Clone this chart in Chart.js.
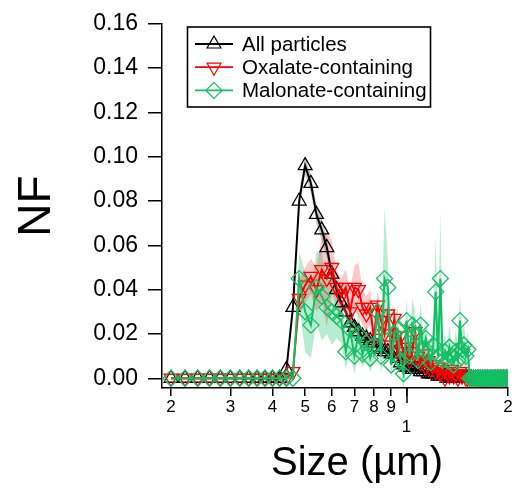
<!DOCTYPE html>
<html>
<head>
<meta charset="utf-8">
<script src="https://cdn.jsdelivr.net/npm/chart.js@4.4.1/dist/chart.umd.min.js"></script>
<style>
  html, body { margin: 0; padding: 0; background: #fff; }
  #wrap { width: 512px; height: 491px; }
</style>
</head>
<body>
<div id="wrap"><canvas id="chart" width="512" height="491"></canvas></div>
<script>
// Size bins (µm)
const sizes = [
  0.20, 0.22, 0.24, 0.26, 0.28, 0.30, 0.32, 0.34, 0.36, 0.38,
  0.40, 0.42, 0.44, 0.46, 0.48, 0.50, 0.52, 0.54, 0.56, 0.58,
  0.60, 0.62, 0.64, 0.66, 0.68, 0.70, 0.72, 0.74, 0.76, 0.78,
  0.80, 0.82, 0.84, 0.86, 0.88, 0.90, 0.92, 0.94, 0.96, 0.98,
  1.00, 1.02, 1.04, 1.06, 1.08, 1.10, 1.12, 1.14, 1.16, 1.18,
  1.20, 1.22, 1.24, 1.26, 1.28, 1.30, 1.32, 1.34, 1.36, 1.38,
  1.40, 1.42, 1.44, 1.46, 1.48, 1.50, 1.52, 1.54, 1.56, 1.58,
  1.60, 1.62, 1.64, 1.66, 1.68, 1.70, 1.72, 1.74, 1.76, 1.78,
  1.80, 1.82, 1.84, 1.86, 1.88, 1.90, 1.92, 1.94, 1.96, 1.98,
  2.00
]

// Number fraction, all particles
const allParticles = [
  0, 0, 0, 0, 0, 0, 0, 0, 0, 0,
  0, 0, 0.004, 0.032, 0.080, 0.096, 0.088, 0.074, 0.067, 0.059,
  0.047, 0.040, 0.034, 0.030, 0.025, 0.023, 0.021, 0.019, 0.018, 0.017,
  0.016, 0.014, 0.013, 0.012, 0.012, 0.011, 0.011, 0.009, 0.007, 0.006,
  0.005, 0.005, 0.004, 0.004, 0.004, 0.003, 0.003, 0.003, 0.002, 0.002,
  0.002, 0.002, 0.001, 0.001, 0.001, 0.001, 0, 0, 0, 0,
  0, 0, 0, 0, 0, 0, 0, 0, 0, 0,
  0, 0, 0, 0, 0, 0, 0, 0, 0, 0,
  0, 0, 0, 0, 0, 0, 0, 0, 0, 0,
  0
]
const allParticlesErr = [
  0, 0, 0, 0, 0, 0, 0, 0, 0, 0,
  0, 0, 0.001, 0.003, 0.004, 0.004, 0.004, 0.004, 0.005, 0.004,
  0.003, 0.003, 0.002, 0.002, 0.002, 0.002, 0.002, 0.002, 0.002, 0.002,
  0.002, 0.002, 0.001, 0.001, 0.001, 0.001, 0.001, 0.001, 0.001, 0.001,
  0.001, 0.001, 0.001, 0.001, 0.001, 0.001, 0.001, 0.001, 0.001, 0.001,
  0.001, 0.001, 0.001, 0.001, 0.001, 0.001, 0, 0, 0, 0,
  0, 0, 0, 0, 0, 0, 0, 0, 0, 0,
  0, 0, 0, 0, 0, 0, 0, 0, 0, 0,
  0, 0, 0, 0, 0, 0, 0, 0, 0, 0,
  0
]

// Oxalate-containing
const oxalate = [
  0, 0, 0, 0, 0, 0, 0, 0, 0, 0,
  0, 0, 0, 0.003, 0.036, 0.042, 0.046, 0.040, 0.049, 0.045,
  0.050, 0.041, 0.037, 0.041, 0.030, 0.041, 0.040, 0.032, 0.029, 0.032,
  0.018, 0.033, 0.026, 0.020, 0.029, 0.015, 0.027, 0.012, 0.019, 0.010,
  0.014, 0.008, 0.012, 0.021, 0.010, 0.007, 0.011, 0.005, 0.008, 0.004,
  0.006, 0.003, 0.005, 0.002, 0.004, 0, 0.003, 0.001, 0.004, 0.001,
  0.002, 0, 0.003, 0.001, 0.002, 0, 0, 0, 0, 0,
  0, 0, 0, 0, 0, 0, 0, 0, 0, 0,
  0, 0, 0, 0, 0, 0, 0, 0, 0, 0,
  0
]
const oxalateErr = [
  0, 0, 0, 0, 0, 0, 0, 0, 0, 0,
  0, 0, 0, 0.002, 0.008, 0.008, 0.008, 0.010, 0.014, 0.022,
  0.012, 0.008, 0.008, 0.008, 0.010, 0.010, 0.012, 0.008, 0.008, 0.008,
  0.006, 0.006, 0.006, 0.005, 0.006, 0.005, 0.005, 0.004, 0.004, 0.004,
  0.004, 0.003, 0.004, 0.005, 0.003, 0.003, 0.003, 0.002, 0.002, 0.002,
  0.002, 0.002, 0.002, 0.001, 0.002, 0.001, 0.001, 0.001, 0.001, 0.001,
  0.001, 0, 0.001, 0.001, 0.001, 0, 0, 0, 0, 0,
  0, 0, 0, 0, 0, 0, 0, 0, 0, 0,
  0, 0, 0, 0, 0, 0, 0, 0, 0, 0,
  0
]

// Malonate-containing
const malonate = [
  0, 0, 0, 0, 0, 0, 0, 0, 0, 0,
  0, 0, 0, 0, 0.045, 0.030, 0.024, 0.041, 0.037, 0.032,
  0.030, 0.028, 0.026, 0.012, 0.022, 0.010, 0.020, 0.011, 0.016, 0.009,
  0.015, 0.030, 0.010, 0.045, 0.041, 0.006, 0.020, 0.022, 0.008, 0.002,
  0.026, 0.010, 0.024, 0.020, 0.008, 0.024, 0.013, 0.018, 0.012, 0.007,
  0.015, 0.039, 0.010, 0.045, 0.008, 0.012, 0.008, 0.014, 0.010, 0.006,
  0.012, 0.008, 0.026, 0.013, 0.015, 0.010, 0.013, 0, 0, 0,
  0, 0, 0, 0, 0, 0, 0, 0, 0, 0,
  0, 0, 0, 0, 0, 0, 0, 0, 0, 0,
  0
]
const malonateErr = [
  0, 0, 0, 0, 0, 0, 0, 0, 0, 0,
  0, 0, 0, 0, 0.012, 0.018, 0.015, 0.016, 0.020, 0.012,
  0.015, 0.010, 0.010, 0.008, 0.010, 0.008, 0.010, 0.006, 0.008, 0.006,
  0.008, 0.006, 0.008, 0.032, 0.012, 0.006, 0.008, 0.010, 0.004, 0.008,
  0.010, 0.006, 0.012, 0.010, 0.006, 0.010, 0.006, 0.010, 0.006, 0.006,
  0.010, 0.025, 0.008, 0.030, 0.006, 0.008, 0.006, 0.010, 0.006, 0.008,
  0.010, 0.006, 0.012, 0.008, 0.010, 0.006, 0.008, 0, 0, 0,
  0, 0, 0, 0, 0, 0, 0, 0, 0, 0,
  0, 0, 0, 0, 0, 0, 0, 0, 0, 0,
  0
]

// Axis ticks
const xTickValues = [0.2, 0.3, 0.4, 0.5, 0.6, 0.7, 0.8, 0.9, 1, 2]
const xTickLabels = ['2', '3', '4', '5', '6', '7', '8', '9', ['', '1'], '2']
const yTickValues = [0, 0.02, 0.04, 0.06, 0.08, 0.10, 0.12, 0.14, 0.16]

const FONT = 'Arial, "Liberation Sans", sans-serif'
Chart.defaults.font.family = FONT
Chart.defaults.color = '#000'

const seriesStyles = [
  { label: 'All particles', values: allParticles, errs: allParticlesErr, color: '#000000', band: 'rgba(0,0,0,0.22)', marker: 'triangle', rotation: 0, order: 3 },
  { label: 'Oxalate-containing', values: oxalate, errs: oxalateErr, color: '#ff0000', band: 'rgba(255,0,0,0.22)', marker: 'triangle', rotation: 180, order: 2 },
  { label: 'Malonate-containing', values: malonate, errs: malonateErr, color: '#14bf64', band: 'rgba(20,191,100,0.3)', marker: 'rectRot', rotation: 0, order: 1 }
]

function toPoints(values, errs, sign) {
  return sizes.map((s, i) => ({ x: s, y: values[i] + sign * (errs ? errs[i] : 0) }))
}

// Build the datasets: shaded band (upper + lower filled) and the line with markers
const datasets = []
seriesStyles.forEach(s => {
  datasets.push({
    data: toPoints(s.values, s.errs, 1),
    borderWidth: 0, pointRadius: 0, fill: false, order: 10 - s.order
  })
  datasets.push({
    data: toPoints(s.values, s.errs, -1),
    borderWidth: 0, pointRadius: 0, fill: '-1',
    backgroundColor: s.band, order: 10 - s.order
  })
})
seriesStyles.forEach(s => {
  datasets.push({
    label: s.label,
    data: toPoints(s.values, null, 0),
    borderColor: s.color,
    borderWidth: 2,
    pointStyle: s.marker,
    pointRotation: s.rotation,
    pointRadius: 8,
    pointBorderWidth: 1.3,
    pointBorderColor: s.color,
    pointBackgroundColor: 'rgba(0,0,0,0)',
    tension: 0,
    fill: false,
    order: s.order
  })
})

function drawMarker(ctx, style, rotation, x, y, r) {
  ctx.beginPath()
  if (style === 'rectRot') {
    ctx.moveTo(x - r, y); ctx.lineTo(x, y - r); ctx.lineTo(x + r, y); ctx.lineTo(x, y + r)
  } else {
    const dir = rotation === 180 ? -1 : 1
    ctx.moveTo(x, y - dir * r)
    ctx.lineTo(x + r * 0.866, y + dir * r * 0.5)
    ctx.lineTo(x - r * 0.866, y + dir * r * 0.5)
  }
  ctx.closePath()
  ctx.stroke()
}

// Legend box, axis titles and the longer tick at 1
const decorPlugin = {
  id: 'decor',
  afterDraw(chart) {
    const ctx = chart.ctx
    ctx.save()

    // legend
    ctx.strokeStyle = '#000'
    ctx.lineWidth = 1.6
    ctx.strokeRect(187.5, 27, 243, 80)
    ctx.font = '20.5px ' + FONT
    ctx.textBaseline = 'middle'
    ctx.textAlign = 'left'
    seriesStyles.forEach((s, i) => {
      const y = 44 + i * 23.2
      ctx.strokeStyle = s.color
      ctx.lineWidth = 1.8
      ctx.beginPath()
      ctx.moveTo(195, y)
      ctx.lineTo(233, y)
      ctx.stroke()
      ctx.lineWidth = 1.2
      drawMarker(ctx, s.marker, s.rotation, 214, y, 8)
      ctx.fillStyle = '#000'
      ctx.fillText(s.label, 242, y + 1)
    })

    // longer major tick at 1
    const xs = chart.scales.x
    const px = Math.round(xs.getPixelForValue(1))
    ctx.strokeStyle = '#000'
    ctx.lineWidth = 1.5
    ctx.beginPath()
    ctx.moveTo(px, chart.chartArea.bottom)
    ctx.lineTo(px, chart.chartArea.bottom + 15)
    ctx.stroke()

    // axis titles
    ctx.fillStyle = '#000'
    ctx.textAlign = 'center'
    ctx.textBaseline = 'alphabetic'
    ctx.font = '40px ' + FONT
    ctx.fillText('Size (µm)', 357, 475)

    ctx.translate(50, 206)
    ctx.rotate(-Math.PI / 2)
    ctx.font = '46px ' + FONT
    ctx.fillText('NF', 0, 0)
    ctx.restore()
  }
}

new Chart(document.getElementById('chart'), {
  type: 'line',
  data: { datasets },
  plugins: [decorPlugin],
  options: {
    responsive: false,
    animation: false,
    layout: { autoPadding: false, padding: { top: 18, right: 4, left: 0, bottom: 0 } },
    plugins: {
      legend: { display: false },
      tooltip: { enabled: false }
    },
    scales: {
      x: {
        type: 'logarithmic',
        min: 0.188,
        max: 2.0,
        afterFit: scale => {
          scale.height = 103
          scale.paddingLeft = 0
          scale.paddingRight = 0
        },
        afterBuildTicks: scale => { scale.ticks = xTickValues.map(v => ({ value: v })) },
        border: { display: true, color: '#000', width: 1.5 },
        grid: { drawOnChartArea: false, drawTicks: true, tickLength: 8, color: '#000', lineWidth: 1.5 },
        ticks: {
          autoSkip: false,
          maxRotation: 0,
          padding: 1,
          font: { size: 17 },
          color: '#000',
          callback: (value, index) => xTickLabels[index]
        }
      },
      y: {
        min: -0.0044,
        max: 0.16,
        afterFit: scale => { scale.width = 162 },
        afterBuildTicks: scale => { scale.ticks = yTickValues.map(v => ({ value: v })) },
        border: { display: true, color: '#000', width: 1.5 },
        grid: { drawOnChartArea: false, drawTicks: true, tickLength: 14, color: '#000', lineWidth: 1.5 },
        ticks: {
          padding: 10,
          font: { size: 23 },
          color: '#000',
          callback: value => value.toFixed(2)
        }
      }
    }
  }
})
</script>
</body>
</html>
